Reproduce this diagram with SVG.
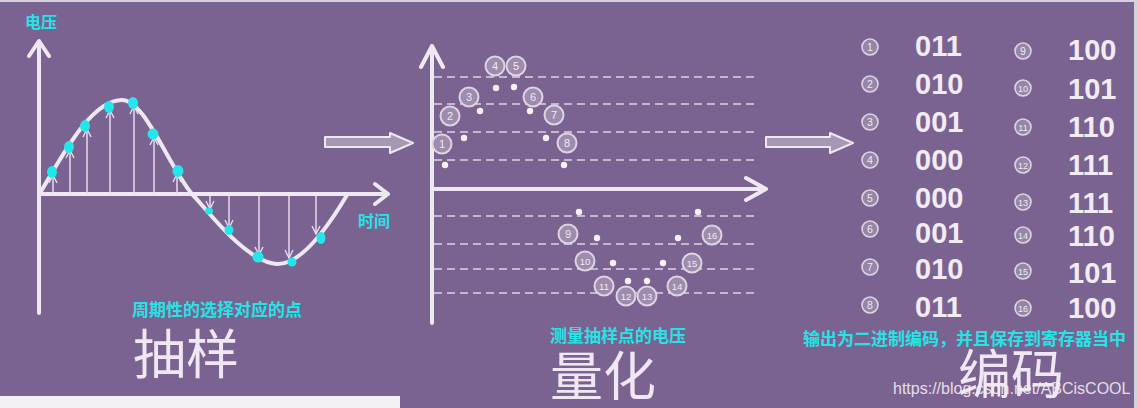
<svg xmlns="http://www.w3.org/2000/svg" width="1138" height="408" viewBox="0 0 1138 408">
<style>
.axis{stroke:#eee8f2;stroke-width:4;fill:none;stroke-linecap:round;stroke-linejoin:round}
.wave{stroke:#eee8f2;stroke-width:4;fill:none;stroke-linecap:round}
.samp{stroke:#e6dcec;stroke-width:1.5;fill:none}
.dot{fill:#22e6ea}
.dash{stroke:#ddd5e3;stroke-width:1.6;stroke-dasharray:8 5;fill:none}
.nc{fill:#9d8cad;stroke:#ddd4e3;stroke-width:2}
.nt{font-family:"Liberation Sans",Arial,sans-serif;font-size:11px;fill:#f0eaf3;text-anchor:middle}
.nt2{font-family:"Liberation Sans",Arial,sans-serif;font-size:9.5px;fill:#f0eaf3;text-anchor:middle}
.sc{fill:#9585a6;stroke:#ddd4e3;stroke-width:1.6}
.st{font-family:"Liberation Sans",Arial,sans-serif;font-size:10.5px;fill:#f0eaf3;text-anchor:middle}
.st2{font-family:"Liberation Sans",Arial,sans-serif;font-size:9px;fill:#f0eaf3;text-anchor:middle}
.code{font-family:"Liberation Sans",Arial,sans-serif;font-size:29px;font-weight:bold;fill:#f1ebf4}
.cy{font-family:"Noto Sans CJK SC",sans-serif;font-size:17px;font-weight:bold;fill:#26e4e6}
.cys{font-family:"Noto Sans CJK SC",sans-serif;font-size:16px;font-weight:bold;fill:#26e4e6}
.big{font-family:"Noto Sans CJK SC",sans-serif;font-size:53px;fill:#efe7f3}
.blk{fill:#a597b5;stroke:#eee8f2;stroke-width:2;stroke-linejoin:round}
</style>
<defs>
<marker id="v" markerWidth="10" markerHeight="10" refX="9" refY="5" orient="auto" markerUnits="userSpaceOnUse" viewBox="0 0 10 10">
<polyline points="1,1 9,5 1,9" fill="none" stroke="#e6dcec" stroke-width="1.4"/>
</marker>
</defs>
<rect width="1138" height="408" fill="#7a6291"/>
<rect x="0" y="0" width="1138" height="2" fill="#d8d0de"/>
<rect x="1134" y="0" width="4" height="408" fill="#d6d0da"/>
<rect x="0" y="396" width="400" height="12" fill="#f4f0f6"/>

<g id="sampling">
<path class="axis" d="M39,313 V42 M29,56 L39,41 L49,56"/>
<path class="axis" d="M39,194 H388 M375,184 L388,194 L375,204"/>
<path class="wave" d="M40,193 C60,160 90,100 122,100 C145,100 168,165 192,194 C205,207 245,262 277,264 C300,265 325,232 347,195"/>
<g>
<line class="samp" x1="53" y1="194" x2="53" y2="175" marker-end="url(#v)"/>
<line class="samp" x1="70" y1="194" x2="70" y2="150" marker-end="url(#v)"/>
<line class="samp" x1="87" y1="194" x2="87" y2="129" marker-end="url(#v)"/>
<line class="samp" x1="110" y1="194" x2="110" y2="110" marker-end="url(#v)"/>
<line class="samp" x1="134" y1="194" x2="134" y2="106" marker-end="url(#v)"/>
<line class="samp" x1="154" y1="194" x2="154" y2="137" marker-end="url(#v)"/>
<line class="samp" x1="177" y1="194" x2="177" y2="174" marker-end="url(#v)"/>
<line class="samp" x1="210" y1="196" x2="210" y2="209" marker-end="url(#v)"/>
<line class="samp" x1="229" y1="196" x2="229" y2="228" marker-end="url(#v)"/>
<line class="samp" x1="259" y1="196" x2="259" y2="255" marker-end="url(#v)"/>
<line class="samp" x1="289" y1="196" x2="289" y2="258" marker-end="url(#v)"/>
<line class="samp" x1="316" y1="196" x2="316" y2="234" marker-end="url(#v)"/>
</g>
<ellipse class="dot" cx="52" cy="172" rx="5" ry="6"/>
<ellipse class="dot" cx="69" cy="147" rx="5" ry="6"/>
<ellipse class="dot" cx="85" cy="126" rx="5" ry="6"/>
<ellipse class="dot" cx="109" cy="107" rx="5" ry="6"/>
<ellipse class="dot" cx="133" cy="103" rx="5" ry="6"/>
<ellipse class="dot" cx="153" cy="134" rx="5.5" ry="5.5"/>
<ellipse class="dot" cx="178" cy="171" rx="5.5" ry="6"/>
<ellipse class="dot" cx="209" cy="211" rx="4" ry="3.5"/>
<ellipse class="dot" cx="229" cy="230" rx="4.5" ry="5"/>
<ellipse class="dot" cx="258" cy="257" rx="5.5" ry="5.5"/>
<ellipse class="dot" cx="292" cy="262" rx="4.5" ry="4.5"/>
<ellipse class="dot" cx="321" cy="238" rx="4.5" ry="6"/>
<text class="cys" x="25" y="28">电压</text>
<text class="cys" x="358" y="227">时间</text>
<text class="cy" x="132" y="316">周期性的选择对应的点</text>
<text class="big" x="133" y="374">抽样</text>
</g>

<g id="connectors">
<polygon class="blk" points="325,137 390,137 390,133 413,143 390,153 390,147 325,147"/>
<polygon class="blk" points="766,137 830,137 830,133 853,143 830,153 830,147 766,147"/>
</g>

<g id="quantization">
<path class="axis" d="M432,323 V46 M421,67 L432,46 L443,67"/>
<path class="axis" d="M432,189 H766 M746,178 L766,189 L746,200"/>
<line class="dash" x1="434" y1="77" x2="755" y2="77"/>
<line class="dash" x1="434" y1="104" x2="755" y2="104"/>
<line class="dash" x1="434" y1="132" x2="755" y2="132"/>
<line class="dash" x1="434" y1="160" x2="755" y2="160"/>
<line class="dash" x1="434" y1="216" x2="755" y2="216"/>
<line class="dash" x1="434" y1="244" x2="755" y2="244"/>
<line class="dash" x1="434" y1="269" x2="755" y2="269"/>
<line class="dash" x1="434" y1="293" x2="755" y2="293"/>
<g fill="#f6f2f8">
<circle cx="445" cy="165" r="3.2"/><circle cx="464" cy="138" r="3.2"/><circle cx="480" cy="111" r="3.2"/><circle cx="496" cy="88" r="3.2"/>
<circle cx="514" cy="87" r="3.2"/><circle cx="530" cy="111" r="3.2"/><circle cx="546" cy="138" r="3.2"/><circle cx="564" cy="165" r="3.2"/>
<circle cx="579" cy="212" r="3.2"/><circle cx="597" cy="238" r="3.2"/><circle cx="613" cy="263" r="3.2"/><circle cx="628" cy="281" r="3.2"/>
<circle cx="647" cy="281" r="3.2"/><circle cx="663" cy="263" r="3.2"/><circle cx="678" cy="238" r="3.2"/><circle cx="698" cy="212" r="3.2"/>
</g>
<g>
<circle class="nc" cx="442" cy="144" r="9.5"/><text class="nt" x="442" y="148">1</text>
<circle class="nc" cx="450" cy="116" r="9.5"/><text class="nt" x="450" y="120">2</text>
<circle class="nc" cx="469" cy="97" r="9.5"/><text class="nt" x="469" y="101">3</text>
<circle class="nc" cx="495" cy="66" r="9.5"/><text class="nt" x="495" y="70">4</text>
<circle class="nc" cx="516" cy="66" r="9.5"/><text class="nt" x="516" y="70">5</text>
<circle class="nc" cx="533" cy="97" r="9.5"/><text class="nt" x="533" y="101">6</text>
<circle class="nc" cx="554" cy="115" r="9.5"/><text class="nt" x="554" y="119">7</text>
<circle class="nc" cx="567" cy="143" r="9.5"/><text class="nt" x="567" y="147">8</text>
<circle class="nc" cx="568" cy="234" r="9.5"/><text class="nt" x="568" y="238">9</text>
<circle class="nc" cx="585" cy="261" r="9.5"/><text class="nt2" x="585" y="264.5">10</text>
<circle class="nc" cx="604" cy="286" r="9.5"/><text class="nt2" x="604" y="289.5">11</text>
<circle class="nc" cx="626" cy="296" r="9.5"/><text class="nt2" x="626" y="299.5">12</text>
<circle class="nc" cx="647" cy="296" r="9.5"/><text class="nt2" x="647" y="299.5">13</text>
<circle class="nc" cx="677" cy="286" r="9.5"/><text class="nt2" x="677" y="289.5">14</text>
<circle class="nc" cx="692" cy="263" r="9.5"/><text class="nt2" x="692" y="266.5">15</text>
<circle class="nc" cx="712" cy="235" r="9.5"/><text class="nt2" x="712" y="238.5">16</text>
</g>
<text class="cy" x="550" y="342">测量抽样点的电压</text>
<text class="big" x="550" y="396">量化</text>
</g>

<g id="encoding">
<circle class="sc" cx="870" cy="47" r="8"/><text class="st" x="870" y="51">1</text>
<circle class="sc" cx="870" cy="84" r="8"/><text class="st" x="870" y="88">2</text>
<circle class="sc" cx="870" cy="122" r="8"/><text class="st" x="870" y="126">3</text>
<circle class="sc" cx="870" cy="160" r="8"/><text class="st" x="870" y="164">4</text>
<circle class="sc" cx="870" cy="198" r="8"/><text class="st" x="870" y="202">5</text>
<circle class="sc" cx="870" cy="229" r="8"/><text class="st" x="870" y="233">6</text>
<circle class="sc" cx="870" cy="267" r="8"/><text class="st" x="870" y="271">7</text>
<circle class="sc" cx="870" cy="305" r="8"/><text class="st" x="870" y="309">8</text>
<text class="code" x="915" y="56">011</text>
<text class="code" x="915" y="94">010</text>
<text class="code" x="915" y="132">001</text>
<text class="code" x="915" y="170">000</text>
<text class="code" x="915" y="208">000</text>
<text class="code" x="915" y="243">001</text>
<text class="code" x="915" y="279">010</text>
<text class="code" x="915" y="317">011</text>
<circle class="sc" cx="1023" cy="51" r="8"/><text class="st" x="1023" y="55">9</text>
<circle class="sc" cx="1023" cy="88" r="8"/><text class="st2" x="1023" y="91.5">10</text>
<circle class="sc" cx="1023" cy="127" r="8"/><text class="st2" x="1023" y="130.5">11</text>
<circle class="sc" cx="1023" cy="165" r="8"/><text class="st2" x="1023" y="168.5">12</text>
<circle class="sc" cx="1023" cy="202" r="8"/><text class="st2" x="1023" y="205.5">13</text>
<circle class="sc" cx="1023" cy="235" r="8"/><text class="st2" x="1023" y="238.5">14</text>
<circle class="sc" cx="1023" cy="271" r="8"/><text class="st2" x="1023" y="274.5">15</text>
<circle class="sc" cx="1023" cy="308" r="8"/><text class="st2" x="1023" y="311.5">16</text>
<text class="code" x="1068" y="60">100</text>
<text class="code" x="1068" y="99">101</text>
<text class="code" x="1068" y="137">110</text>
<text class="code" x="1068" y="175">111</text>
<text class="code" x="1068" y="213">111</text>
<text class="code" x="1068" y="246">110</text>
<text class="code" x="1068" y="283">101</text>
<text class="code" x="1068" y="318">100</text>
<text class="cy" x="803" y="345">输出为二进制编码，并且保存到寄存器当中</text>
<text class="big" x="958" y="394">编码</text>
<text x="893" y="394" font-family="Liberation Sans, Arial, sans-serif" font-size="16" fill="#f2eff4" fill-opacity="0.9">https://blog.csdn.net/ABCisCOOL</text>
</g>
</svg>
